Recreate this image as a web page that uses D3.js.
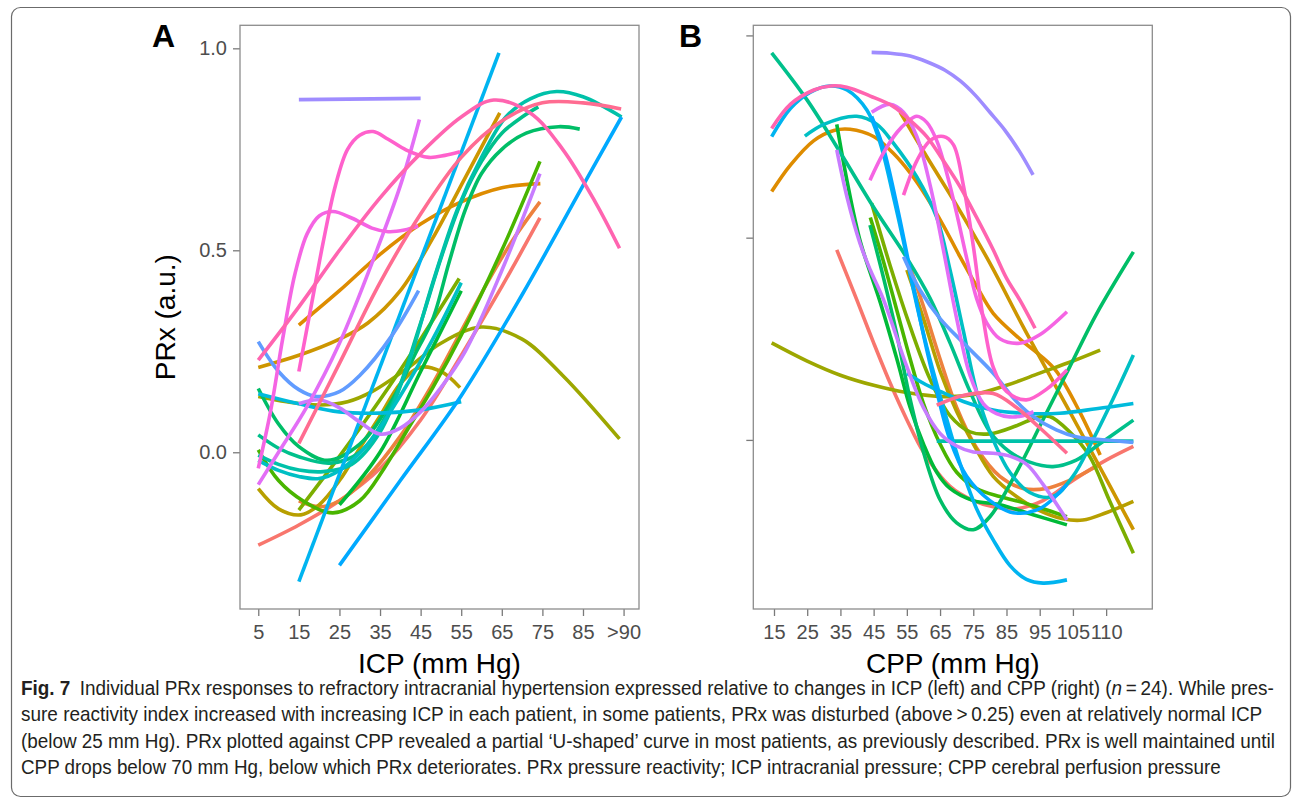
<!DOCTYPE html>
<html><head><meta charset="utf-8">
<script src="https://cdn.jsdelivr.net/npm/d3@7"></script>
<style>
body{margin:0;background:#fff;}
svg{display:block;}
</style></head>
<body>
<svg id="fig" width="1293" height="798"></svg>
<script>
// ---------- tick data ----------
const icpTicks = [5,15,25,35,45,55,65,75,85,95];
const icpTickLabels = ["5","15","25","35","45","55","65","75","85",">90"];
const cppTicks = [15,25,35,45,55,65,75,85,95,105,115];
const cppTickLabels = ["15","25","35","45","55","65","75","85","95","105","110"];
const prxTicks = [0, 0.5, 1.0];
const prxTickLabels = ["0.0","0.5","1.0"];

// ---------- Panel A: PRx vs ICP, one array per patient [ICP, PRx] ----------
const icp01 = [[5,-0.23],[15,-0.18],[25,-0.12],[35,-0.04],[45,0.08],[55,0.24],[65,0.41],[74.4,0.58]];
const icp02 = [[15,-0.12],[20,-0.135],[25,-0.12],[32,-0.06],[40,0.04],[48,0.17],[55,0.30],[62,0.43],[68,0.53],[74.4,0.62]];
const icp03 = [[15,0.315],[25,0.40],[35,0.49],[45,0.565],[55,0.62],[65,0.655],[74.5,0.665]];
const icp04 = [[5,0.21],[15,0.24],[25,0.28],[32,0.32],[40,0.40],[48,0.53],[56,0.68],[64.5,0.84]];
const icp05 = [[5,-0.09],[10,-0.14],[15.5,-0.155],[20,-0.13],[25,-0.07],[30,0.01],[35,0.09],[40,0.17],[44.8,0.21],[50,0.20],[54.7,0.16]];
const icp06 = [[5,0.138],[12,0.125],[20,0.117],[27,0.125],[33,0.15],[42,0.21],[50,0.27],[60,0.31],[70,0.28],[80,0.19],[94,0.033]];
const icp07 = [[15,-0.143],[25,-0.01],[35,0.13],[45,0.28],[54.5,0.43]];
const icp08 = [[5,0.006],[10,-0.07],[16,-0.12],[23.4,-0.15],[30,-0.12],[36,-0.04],[42,0.06],[48,0.16],[55,0.29],[65,0.50],[74.4,0.72]];
const icp09 = [[25,-0.13],[35,0.0],[45,0.2],[55,0.4]];
const icp10 = [[5,0.158],[10,0.07],[15,0.014],[22,-0.02],[30,0.02],[38,0.13],[44,0.25],[48,0.33],[52,0.47],[56,0.60],[60,0.69],[65,0.75],[71,0.79],[79,0.806],[84.2,0.80]];
const icp11 = [[5,0.043],[10,0.01],[15,-0.011],[22.7,-0.027],[30,0.0],[38,0.12],[45,0.32],[50,0.48],[55,0.62],[60,0.72],[65,0.79],[70,0.83],[74,0.855]];
const icp12 = [[5,-0.007],[10,-0.03],[15,-0.044],[21,-0.048],[28,-0.03],[35,0.05],[42,0.22],[48,0.42],[54,0.60],[60,0.73],[66,0.83],[72,0.875],[78.5,0.893],[85,0.88],[94.5,0.83]];
const icp13 = [[5,-0.02],[10,-0.045],[15,-0.06],[20,-0.065],[25,-0.045],[32,0.02],[40,0.14],[48,0.28],[55,0.42]];
const icp14 = [[5,0.145],[15,0.12],[25,0.10],[35,0.097],[45,0.105],[55,0.125]];
const icp15 = [[15,-0.32],[64.3,0.989]];
const icp16 = [[25,-0.28],[40,-0.07],[55,0.14],[70,0.39],[85,0.66],[94.5,0.83]];
const icp17 = [[5,0.274],[10,0.20],[15,0.155],[19.4,0.138],[25,0.15],[30,0.19],[38,0.29],[44.5,0.40]];
const icp18 = [[15,0.873],[45,0.876]];
const icp19 = [[15,0.12],[20,0.13],[25,0.11],[30,0.075],[35,0.045],[40,0.06],[45,0.10],[50,0.16],[56,0.25],[65,0.45],[74.4,0.69]];
const icp20 = [[5,-0.08],[10,0.0],[17,0.113],[25,0.27],[34.2,0.50],[40,0.66],[44.7,0.824]];
const icp21 = [[5,-0.04],[8,0.10],[11,0.28],[14,0.44],[17,0.54],[20,0.585],[23.4,0.596],[28,0.58],[33,0.555],[37,0.546],[41,0.55],[44.4,0.56]];
const icp22 = [[15,0.20],[18,0.36],[21,0.52],[24,0.66],[27,0.75],[30,0.785],[33.3,0.794],[37,0.775],[41.5,0.748],[47,0.73],[51,0.735],[54.7,0.744]];
const icp23 = [[5,0.228],[15,0.36],[25,0.50],[35,0.63],[45,0.74],[55,0.83],[63,0.872],[72,0.84],[80,0.75],[88,0.62],[94,0.505]];
const icp24 = [[15,0.022],[25,0.22],[35,0.42],[45,0.59],[55,0.73],[65,0.82],[75,0.865],[85,0.865],[94.4,0.85]];
const icpSeries = [icp01,icp02,icp03,icp04,icp05,icp06,icp07,icp08,icp09,icp10,icp11,icp12,
                   icp13,icp14,icp15,icp16,icp17,icp18,icp19,icp20,icp21,icp22,icp23,icp24];

// ---------- Panel B: PRx vs CPP, one array per patient [CPP, PRx] ----------
const cpp01 = [[33.9,0.47],[40,0.345],[45,0.24],[50,0.14],[55,0.05],[60,-0.03],[68,-0.115],[75,-0.15],[81,-0.165],[88,-0.17],[96,-0.15],[105,-0.10],[115,-0.05],[123.2,-0.016]];
const cpp02 = [[55,0.45],[60,0.33],[65,0.20],[70,0.08],[76,-0.02],[83,-0.09],[90,-0.12],[97,-0.12],[104,-0.10],[113.2,-0.06]];
const cpp03 = [[14.3,0.614],[20,0.68],[27,0.74],[33,0.765],[37.9,0.768],[45,0.75],[51,0.708],[56,0.66],[61,0.60],[66,0.53],[71,0.453],[76,0.38],[81,0.313],[89,0.25],[95,0.21],[100,0.17],[107,0.07],[113.2,-0.037]];
const cpp04 = [[53,0.81],[61,0.70],[70,0.58],[80,0.437],[90,0.28],[100,0.13],[110,-0.02],[123.2,-0.222]];
const cpp05 = [[55,0.42],[60,0.30],[65,0.17],[70,0.07],[75,-0.01],[81,-0.09],[88,-0.14],[95,-0.175],[102,-0.195],[108,-0.198],[115,-0.18],[123.2,-0.152]];
const cpp06 = [[14.3,0.24],[25,0.195],[35,0.16],[45,0.135],[55,0.117],[66,0.107],[75,0.112],[85,0.135],[95,0.165],[105,0.195],[113.2,0.222]];
const cpp07 = [[44.4,0.585],[50,0.43],[56,0.28],[62,0.15],[68,0.06],[74,0.02],[80,0.015],[88,0.035],[94,0.055],[98,0.058],[104,0.02],[110,-0.04],[116,-0.15],[123.2,-0.28]];
const cpp08 = [[44,0.55],[48,0.44],[52,0.32],[56,0.20],[60,0.09],[65,-0.01],[70,-0.08],[76,-0.12],[83,-0.14],[90,-0.155],[96,-0.17],[103.2,-0.19]];
const cpp09 = [[33.9,0.78],[37,0.64],[41,0.49],[47,0.34],[52,0.20],[56,0.08],[60,-0.01],[64,-0.08],[68,-0.12],[75,-0.15],[83,-0.16],[93,-0.185],[103.2,-0.21]];
const cpp10 = [[43.9,0.531],[48,0.40],[52,0.26],[56,0.10],[60,-0.03],[65,-0.148],[70,-0.205],[75,-0.222],[80,-0.19],[88,-0.08],[96,0.05],[104,0.18],[112,0.31],[123.2,0.465]];
const cpp11 = [[14.3,0.957],[25,0.84],[35,0.71],[45,0.575],[55,0.45],[62,0.35],[68,0.24],[74,0.12],[80,0.02],[86,-0.03],[92,-0.055],[99,-0.066],[106,-0.05],[113,-0.01],[123.2,0.049]];
const cpp12 = [[64,-0.003],[123.2,-0.003]];
const cpp13 = [[24.3,0.751],[30,0.78],[39.9,0.80],[46,0.78],[51,0.733],[58,0.65],[64,0.55],[68,0.42],[72,0.27],[76,0.12],[80,0.02],[86,-0.08],[92,-0.13],[99,-0.14],[105,-0.09],[111,0.0],[117,0.10],[123.2,0.21]];
const cpp14 = [[55,0.165],[60,0.14],[64,0.124],[72,0.095],[81,0.074],[90,0.066],[101,0.066],[112,0.077],[123.2,0.09]];
const cpp15 = [[14.3,0.75],[20,0.82],[26,0.86],[31.9,0.875],[37,0.865],[43,0.815],[47,0.733],[51,0.60],[54,0.49],[57,0.37],[61,0.23],[66,0.08],[71,-0.058],[76,-0.17],[81,-0.247],[86,-0.31],[91,-0.345],[96,-0.354],[103.2,-0.346]];
const cpp16 = [[44.4,0.80],[48,0.72],[52,0.58],[56,0.42],[60,0.26],[64,0.12],[68,0.0],[73,-0.09],[80,-0.15],[87,-0.18],[95,-0.17],[103.2,-0.11]];
const cpp17 = [[54,0.453],[59,0.37],[65,0.30],[72,0.24],[81,0.165],[88,0.095],[93,0.058],[100,0.025],[106,0.008],[115,0.0],[123.2,-0.006]];
const cpp18 = [[44.4,0.958],[50,0.956],[56,0.949],[61,0.935],[66.5,0.914],[71,0.888],[75.5,0.853],[80,0.81],[84.5,0.766],[89,0.712],[93,0.655]];
const cpp19 = [[33.9,0.717],[37,0.60],[40.9,0.486],[44,0.42],[48,0.346],[55,0.181],[60,0.08],[65,0.016],[70,-0.015],[75,-0.03],[81,-0.033],[86,-0.04],[91,-0.06],[96,-0.11],[103.2,-0.198]];
const cpp20 = [[44.4,0.81],[50,0.83],[54,0.81],[58,0.75],[62,0.63],[66,0.47],[70,0.30],[74,0.16],[78,0.09],[82,0.065],[86,0.057],[90,0.06],[93.1,0.07]];
const cpp21 = [[43.9,0.642],[48,0.71],[52,0.76],[55,0.785],[58,0.80],[61,0.785],[64,0.74],[67,0.66],[70,0.56],[73,0.45],[76,0.35],[79,0.29],[83,0.25],[89,0.239],[95,0.26],[103.2,0.317]];
const cpp22 = [[54,0.605],[58,0.69],[62,0.74],[66,0.75],[69,0.73],[72,0.63],[75,0.48],[78,0.30],[81,0.18],[85,0.12],[91,0.099],[97,0.125],[103.2,0.173]];
const cpp23 = [[14.3,0.77],[20,0.83],[27,0.865],[32,0.875],[36.9,0.872],[44,0.85],[51,0.824],[56,0.79],[61,0.75],[66,0.69],[71,0.626],[76,0.55],[81,0.47],[85,0.40],[89,0.346],[93.6,0.276]];
const cpp24 = [[64,0.086],[72,0.11],[81,0.115],[88,0.08],[95,0.03],[103.2,-0.033]];
const cppSeries = [cpp01,cpp02,cpp03,cpp04,cpp05,cpp06,cpp07,cpp08,cpp09,cpp10,cpp11,cpp12,
                   cpp13,cpp14,cpp15,cpp16,cpp17,cpp18,cpp19,cpp20,cpp21,cpp22,cpp23,cpp24];

// ---------- text ----------
const panelLabels = ["A","B"];
const xTitles = ["ICP (mm Hg)","CPP (mm Hg)"];
const yTitle = "PRx (a.u.)";

// ---------- ggplot-style hue palette (polar LUV) ----------
function hclLuv(h, c, l){
  const hr = h*Math.PI/180, U = c*Math.cos(hr), V = c*Math.sin(hr);
  const Xn=95.047, Yn=100, Zn=108.883;
  const Y = Yn*(l>8 ? Math.pow((l+16)/116,3) : l/903.3);
  const d = Xn+15*Yn+3*Zn, un = 4*Xn/d, vn = 9*Yn/d;
  const u = U/(13*l)+un, v = V/(13*l)+vn;
  const X = 9*Y*u/(4*v), Z = -X/3 - 5*Y + 3*Y/v;
  const x=X/100, y=Y/100, z=Z/100;
  const lin = [ 3.240479*x-1.537150*y-0.498535*z,
               -0.969256*x+1.875992*y+0.041556*z,
                0.055648*x-0.204043*y+1.057311*z];
  const g = lin.map(t=>{t = t<=0.0031308 ? 12.92*t : 1.055*Math.pow(t,1/2.4)-0.055; return Math.round(255*Math.max(0,Math.min(1,t)));});
  return d3.rgb(g[0],g[1],g[2]).formatHex();
}
const nPat = 24;
const palette = d3.range(nPat).map(i => hclLuv(15 + 360*i/nPat, 100, 65));

// ---------- drawing ----------
const svg = d3.select("#fig");
svg.append("rect").attr("x",11.5).attr("y",7.5).attr("width",1279).attr("height",789)
   .attr("rx",9).attr("fill","none").attr("stroke","#6b6b6b").attr("stroke-width",1.2);

const sans = "'Liberation Sans', Arial, Helvetica, sans-serif";
const yTop = 25.3, yBot = 609;
const panels = [
  {x0:240, x1:639, xDom:[0.5,98.8], yDom:[-0.388,1.057], ticks:icpTicks, labels:icpTickLabels, series:icpSeries, yLabels:true, lab:panelLabels[0], labX:152, title:xTitles[0]},
  {x0:753.3, x1:1152.3, xDom:[8.77,128.9], yDom:[-0.418,1.025], ticks:cppTicks, labels:cppTickLabels, series:cppSeries, yLabels:false, lab:panelLabels[1], labX:679, title:xTitles[1]}
];

panels.forEach(p=>{
  const x = d3.scaleLinear().domain(p.xDom).range([p.x0,p.x1]);
  const y = d3.scaleLinear().domain(p.yDom).range([yBot,yTop]);
  const g = svg.append("g");

  const xa = d3.axisBottom(x).tickValues(p.ticks).tickFormat((d,i)=>p.labels[i]).tickSize(7).tickPadding(9);
  const gx = g.append("g").attr("transform",`translate(0,${yBot})`).call(xa);
  const ya = d3.axisLeft(y).tickValues(prxTicks).tickFormat((d,i)=> p.yLabels ? prxTickLabels[i] : "").tickSize(7).tickPadding(6);
  const gy = g.append("g").attr("transform",`translate(${p.x0},0)`).call(ya);
  [gx,gy].forEach(a=>{
    a.select(".domain").remove();
    a.selectAll(".tick line").attr("stroke","#7a7a7a").attr("stroke-width",1.3);
    a.selectAll(".tick text").attr("fill","#4d4d4d").style("font-family",sans).style("font-size","20px");
  });
  if(!p.yLabels) gy.selectAll(".tick text").remove();

  const line = d3.line().x(d=>x(d[0])).y(d=>y(d[1])).curve(d3.curveCatmullRom.alpha(0.5));
  g.append("g").selectAll("path").data(p.series).join("path")
    .attr("d",line).attr("fill","none")
    .attr("stroke",(d,i)=>palette[i]).attr("stroke-width",3.6).attr("stroke-linecap","butt");

  g.append("rect").attr("x",p.x0).attr("y",yTop).attr("width",p.x1-p.x0).attr("height",yBot-yTop)
    .attr("fill","none").attr("stroke","#8c8c8c").attr("stroke-width",1.3);

  g.append("text").attr("x",(p.x0+p.x1)/2).attr("y",673).attr("text-anchor","middle")
    .style("font-family",sans).style("font-size","28px").attr("fill","#000").text(p.title);
  g.append("text").attr("x",p.labX).attr("y",47)
    .style("font-family",sans).style("font-size","32px").style("font-weight","bold").attr("fill","#000").text(p.lab);
});

svg.append("text").attr("transform",`translate(175,${(yTop+yBot)/2}) rotate(-90)`).attr("text-anchor","middle")
  .style("font-family",sans).style("font-size","28px").attr("fill","#000").text(yTitle);

// ---------- caption (condensed by horizontal scaling to the reference line widths) ----------
const capFont = "'Liberation Sans Narrow','Arial Narrow','Liberation Sans',Arial,sans-serif";
const capLines = [
  {y:695, w:1254, parts:[["Fig. 7","bold"],["\u2002Individual PRx responses to refractory intracranial hypertension expressed relative to changes in ICP (left) and CPP (right) (",""],["n","italic"],["\u2009=\u200924). While pres-",""]]},
  {y:721, w:1242, parts:[["sure reactivity index increased with increasing ICP in each patient, in some patients, PRx was disturbed (above\u2009>\u20090.25) even at relatively normal ICP",""]]},
  {y:748, w:1255, parts:[["(below 25 mm Hg). PRx plotted against CPP revealed a partial \u2018U-shaped\u2019 curve in most patients, as previously described. PRx is well maintained until",""]]},
  {y:774, w:1201, parts:[["CPP drops below 70 mm Hg, below which PRx deteriorates. PRx pressure reactivity; ICP intracranial pressure; CPP cerebral perfusion pressure",""]]}
];
capLines.forEach(l=>{
  const t = svg.append("text").attr("x",0).attr("y",0)
     .style("font-family",capFont).style("font-size","20px").attr("fill","#231f20");
  l.parts.forEach(pt=>{
    const s = t.append("tspan").text(pt[0]);
    if(pt[1]==="bold") s.style("font-weight","bold");
    if(pt[1]==="italic") s.style("font-style","italic");
  });
  const nat = t.node().getComputedTextLength();
  const sx = l.w / nat;
  t.attr("transform",`translate(21,${l.y}) scale(${sx},1)`);
});
</script>
</body></html>
